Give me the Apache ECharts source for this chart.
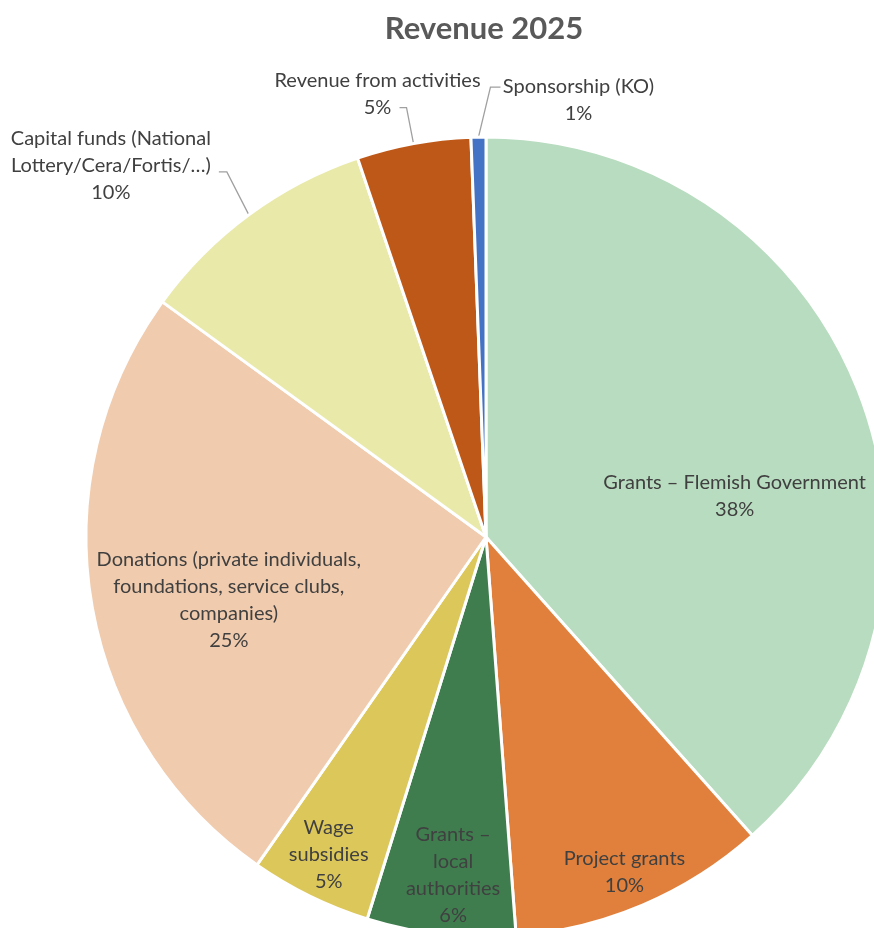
<!DOCTYPE html>
<html>
<head>
<meta charset="utf-8">
<script src="https://cdn.jsdelivr.net/npm/echarts@6/dist/echarts.min.js"></script>
<style>
  html, body { margin: 0; padding: 0; background: #ffffff; }
  #chart { width: 874px; height: 928px; }
</style>
</head>
<body>
<div id="chart"></div>
<script>
// Revenue sources, clockwise from 12 o'clock
const categories = [
  'Grants – Flemish Government',
  'Project grants',
  'Grants – local authorities',
  'Wage subsidies',
  'Donations (private individuals, foundations, service clubs, companies)',
  'Capital funds (National Lottery/Cera/Fortis/…)',
  'Revenue from activities',
  'Sponsorship (KO)'
];
// Share of total revenue, in percent
const shares = [38.4, 10.4, 6.0, 4.9, 25.3, 9.8, 4.6, 0.6];

const sliceColors = ['#b8dcbf', '#e0803c', '#3f7d4f', '#dcc75b', '#f0cbad', '#e9e9aa', '#be5818', '#4472c4'];

// How each category name wraps inside its label
const wrappedNames = {
  2: 'Grants –\nlocal\nauthorities',
  3: 'Wage\nsubsidies',
  4: 'Donations (private individuals,\nfoundations, service clubs,\ncompanies)',
  5: 'Capital funds (National\nLottery/Cera/Fortis/…)'
};

const CX = 486, CY = 537, R = 400;

// Slices with labels outside the pie, joined by a leader line
const outside = [5, 6, 7];
// Shift of the inside labels from the default mid-radius spot
const insideShift = { 0: [59, 31], 1: [59, 148], 2: [-10, 136], 3: [-68, 135], 4: [-57, 29] };
// Leader line: bend relative to the slice edge, horizontal run, then label centre offset
const leader = {
  5: { bend: [-22, -43], run: -8, text: [-108, -6] },
  6: { bend: [-7, -36], run: -7, text: [-22, -14] },
  7: { bend: [12, -50], run: 10, text: [78, 13] }
};

const data = categories.map((name, i) => {
  const isOut = outside.indexOf(i) >= 0;
  return {
    name: name,
    value: shares[i],
    itemStyle: { color: sliceColors[i] },
    label: { position: isOut ? 'outside' : 'inside' },
    labelLine: { show: isOut }
  };
});

const chart = echarts.init(document.getElementById('chart'), null, { renderer: 'canvas' });

chart.setOption({
  animation: false,
  backgroundColor: '#ffffff',
  title: {
    text: 'Revenue 2025',
    left: 479,
    top: 8,
    textAlign: 'center',
    textStyle: {
      fontFamily: 'Lato',
      fontWeight: 'bold',
      fontSize: 31,
      color: '#595959'
    }
  },
  series: [{
    type: 'pie',
    center: [CX, CY],
    radius: [0, R],
    startAngle: 90,
    clockwise: true,
    avoidLabelOverlap: false,
    data: data,
    itemStyle: { borderColor: '#ffffff', borderWidth: 3 },
    label: {
      fontFamily: 'Lato',
      fontSize: 20,
      lineHeight: 27,
      color: '#404040',
      align: 'center',
      formatter: function (p) {
        const name = wrappedNames[p.dataIndex] || p.name;
        return name + '\n' + Math.round(p.percent) + '%';
      }
    },
    labelLine: {
      length: 40,
      length2: 8,
      lineStyle: { color: '#a0a0a0', width: 1.3 }
    },
    labelLayout: function (p) {
      const i = p.dataIndex;
      if (insideShift[i]) {
        return { dx: insideShift[i][0], dy: insideShift[i][1] };
      }
      const L = leader[i];
      if (!L || !p.labelLinePoints) return {};
      const p0 = p.labelLinePoints[0];
      const p1 = [p0[0] + L.bend[0], p0[1] + L.bend[1]];
      const p2 = [p1[0] + L.run, p1[1]];
      return {
        x: p2[0] + L.text[0],
        y: p2[1] + L.text[1],
        align: 'center',
        verticalAlign: 'middle',
        labelLinePoints: [p0, p1, p2]
      };
    }
  }]
});
</script>
</body>
</html>
